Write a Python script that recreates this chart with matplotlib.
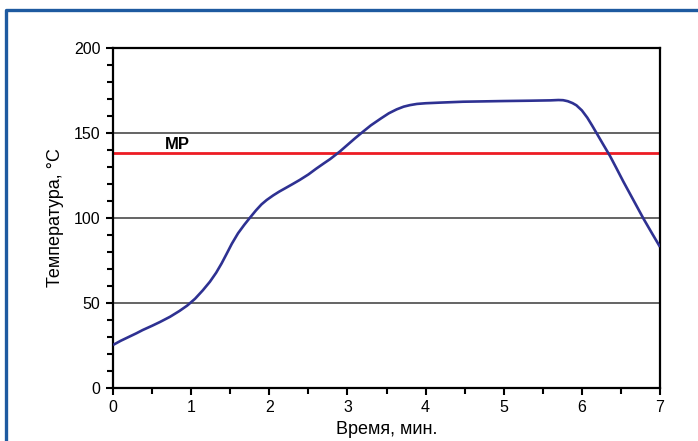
import matplotlib
matplotlib.use("Agg")
import matplotlib.pyplot as plt
from matplotlib.lines import Line2D
from matplotlib.ticker import MultipleLocator

plt.rcParams['font.family'] = ['Liberation Sans', 'DejaVu Sans']

# Data
time_min = [0.0, 0.1, 0.2, 0.3, 0.38, 0.5, 0.6, 0.73, 0.85, 0.95, 1.05, 1.15, 1.24, 1.32,
            1.39, 1.455, 1.52, 1.6, 1.68, 1.753, 1.83, 1.9, 1.967, 2.05, 2.13, 2.2, 2.3,
            2.39, 2.5, 2.6, 2.7, 2.78, 2.9, 3.0, 3.1, 3.2, 3.3, 3.43, 3.53, 3.63, 3.72,
            3.8, 3.89, 4.0, 4.2, 4.48, 5.0, 5.34, 5.6, 5.7, 5.76, 5.82, 5.88, 5.93, 6.0,
            6.07, 6.13, 6.19, 6.27, 6.36, 6.44, 6.53, 6.66, 6.79, 6.9, 7.0]
temp_c = [25.3, 27.8, 30.0, 32.2, 34.1, 36.6, 38.8, 41.9, 45.3, 48.5, 52.5, 57.5, 62.5, 67.8,
          73.3, 79.0, 84.8, 91.0, 96.0, 100.2, 104.5, 108.0, 110.6, 113.3, 115.6, 117.4, 120.0,
          122.4, 125.6, 129.0, 132.2, 134.7, 139.0, 143.0, 147.0, 150.8, 154.5, 158.6, 161.6, 163.9, 165.5,
          166.4, 167.1, 167.5, 167.9, 168.4, 168.8, 169.0, 169.2, 169.4, 169.3, 168.7, 167.6, 166.3, 163.3,
          159.0, 154.5, 149.8, 143.5, 136.5, 129.5, 121.5, 110.5, 99.5, 90.8, 83.0]
mp_value = 138.3
mp_label = "MP"
x_ticks = [0, 1, 2, 3, 4, 5, 6, 7]
y_ticks = [0, 50, 100, 150, 200]
grid_levels = [50, 100, 150]
xlabel = "Время, мин."
ylabel = "Температура, °C"

W, H = 698, 441
fig = plt.figure(figsize=(W / 100, H / 100), dpi=100)
ax = fig.add_axes([113 / W, 1 - 388 / H, (660 - 113) / W, (388 - 48) / H])

ax.set_xlim(0, 7)
ax.set_ylim(0, 200)

for g in grid_levels:
    ax.axhline(g, color='#3a3a3a', lw=1.1, zorder=1)

ax.axhline(mp_value, color='#ed1c24', lw=2.0, zorder=2)
ax.text(0.83, mp_value + 5.2, mp_label, fontsize=12, fontweight='bold',
        ha='center', va='center', color='black')

ax.plot(time_min, temp_c, color='#2e3192', lw=1.9, zorder=3,
        solid_joinstyle='round', solid_capstyle='butt')

ax.set_xticks(x_ticks)
ax.set_yticks(y_ticks)
ax.xaxis.set_minor_locator(MultipleLocator(0.5))
ax.yaxis.set_minor_locator(MultipleLocator(10))
ax.tick_params(axis='both', which='major', direction='out', length=5, width=1.5,
               labelsize=11.5, colors='black', pad=4)
ax.tick_params(axis='both', which='minor', direction='out', length=4, width=1.5)
ax.tick_params(top=False, right=False, which='both')

for s in ax.spines.values():
    s.set_linewidth(1.6)
    s.set_color('black')

ax.set_xlabel(xlabel, fontsize=13, labelpad=4)
ax.set_ylabel(ylabel, fontsize=13, labelpad=7)

# blue frame (left & top edges visible)
fig.add_artist(Line2D([5.5 / W, 5.5 / W, 1.0], [0.0, 1 - 9.5 / H, 1 - 9.5 / H],
                      transform=fig.transFigure, color='#1e5aa0', lw=2.4))

fig.savefig("out.png", dpi=100)
